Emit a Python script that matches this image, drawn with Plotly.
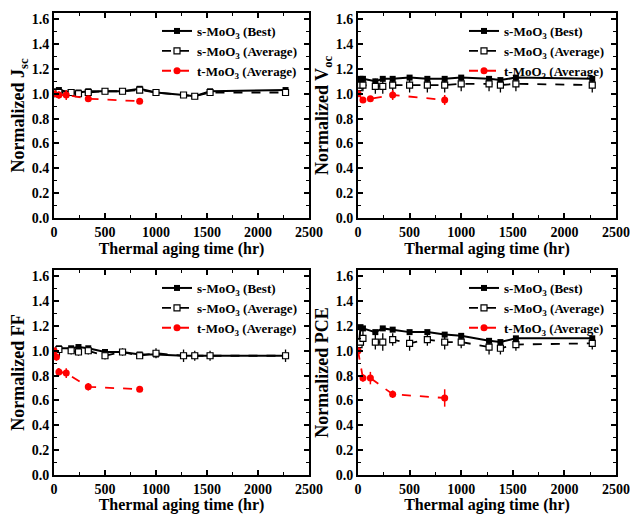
import plotly.graph_objects as go

# ---------------- data ----------------
s_time = [10, 24, 48, 168, 240, 336, 500, 672, 840, 1000, 1270, 1380, 1530, 2270]
t_time5 = [0, 48, 120, 336, 840]
t_time6 = [0, 24, 48, 120, 336, 840]

jsc_best = [1.00, 1.02, 1.03, 1.01, 1.01, 1.02, 1.02, 1.02, 1.04, 1.01, 0.99, 0.98, 1.02, 1.03]
jsc_avg = [1.00, 1.01, 1.01, 1.01, 1.00, 1.01, 1.02, 1.02, 1.03, 1.01, 0.99, 0.98, 1.01, 1.01]
jsc_avg_err = [0.005, 0.01, 0.01, 0.01, 0.01, 0.01, 0.01, 0.01, 0.01, 0.01, 0.01, 0.01, 0.01, 0.01]
jsc_t = [1.00, 0.99, 0.99, 0.96, 0.94]
jsc_t_err = [0.0, 0.03, 0.04, 0.02, 0.01]

voc_best = [1.10, 1.12, 1.12, 1.10, 1.12, 1.12, 1.13, 1.12, 1.12, 1.13, 1.12, 1.11, 1.13, 1.12]
voc_avg = [1.05, 1.07, 1.07, 1.06, 1.06, 1.07, 1.07, 1.07, 1.07, 1.08, 1.08, 1.07, 1.08, 1.07]
voc_avg_err = [0.03, 0.05, 0.05, 0.06, 0.06, 0.06, 0.06, 0.06, 0.06, 0.06, 0.06, 0.06, 0.06, 0.06]
voc_t = [1.00, 0.95, 0.96, 0.99, 0.95]
voc_t_err = [0.0, 0.02, 0.02, 0.04, 0.04]

ff_best = [0.96, 0.97, 1.02, 1.02, 1.03, 1.02, 0.99, 0.99, 0.97, 0.97, 0.96, 0.96, 0.96, 0.96]
ff_avg = [0.97, 0.98, 1.01, 1.00, 0.99, 1.00, 0.96, 0.99, 0.96, 0.98, 0.96, 0.96, 0.96, 0.96]
ff_avg_err = [0.02, 0.02, 0.02, 0.03, 0.03, 0.03, 0.03, 0.03, 0.02, 0.04, 0.05, 0.04, 0.04, 0.05]
ff_t = [1.00, 0.95, 0.83, 0.82, 0.71, 0.69]
ff_t_err = [0.02, 0.03, 0.03, 0.04, 0.03, 0.01]

pce_best = [1.05, 1.19, 1.18, 1.15, 1.18, 1.17, 1.15, 1.15, 1.13, 1.12, 1.08, 1.07, 1.10, 1.10]
pce_avg = [1.05, 1.07, 1.10, 1.07, 1.07, 1.09, 1.06, 1.09, 1.07, 1.07, 1.03, 1.02, 1.05, 1.06]
pce_avg_err = [0.03, 0.05, 0.06, 0.06, 0.07, 0.05, 0.06, 0.05, 0.06, 0.05, 0.06, 0.05, 0.05, 0.05]
pce_t = [1.00, 0.78, 0.78, 0.65, 0.62]
pce_t_err = [0.0, 0.03, 0.05, 0.03, 0.07]

x_ticks = [0, 500, 1000, 1500, 2000, 2500]
y_ticks = [0.0, 0.2, 0.4, 0.6, 0.8, 1.0, 1.2, 1.4, 1.6]

legend_names = ["s-MoO<sub>3</sub> (Best)", "s-MoO<sub>3</sub> (Average)", "t-MoO<sub>3</sub> (Average)"]
y_titles = ["Normalized J<sub>sc</sub>", "Normalized V<sub>oc</sub>", "Normalized FF", "Normalized PCE"]

panels = [
    (jsc_best, jsc_avg, jsc_avg_err, t_time5, jsc_t, jsc_t_err),
    (voc_best, voc_avg, voc_avg_err, t_time5, voc_t, voc_t_err),
    (ff_best, ff_avg, ff_avg_err, t_time6, ff_t, ff_t_err),
    (pce_best, pce_avg, pce_avg_err, t_time5, pce_t, pce_t_err),
]

# ---------------- layout geometry ----------------
W, H = 630, 514
def px_x(p):
    return p / W
def px_y(p):
    return 1 - p / H

x_domains = [(54, 309), (358, 616), (54, 309), (358, 616)]
y_domains = [(13, 218), (13, 218), (270, 475), (270, 475)]

FONT = "Liberation Serif"
RED = "#ff0000"

fig = go.Figure()

for i, (best, avg, avg_err, tx, tv, terr) in enumerate(panels):
    n = "" if i == 0 else str(i + 1)
    xa, ya = "x" + n, "y" + n
    leg = "legend" + n
    fig.add_trace(go.Scatter(
        x=s_time, y=best, xaxis=xa, yaxis=ya, legend=leg, name=legend_names[0],
        mode="lines+markers",
        line=dict(color="black", width=2),
        marker=dict(symbol="square", size=6, color="black"),
    ))
    fig.add_trace(go.Scatter(
        x=s_time, y=avg, xaxis=xa, yaxis=ya, legend=leg, name=legend_names[1],
        mode="lines+markers",
        line=dict(color="black", width=1.8, dash="dash"),
        marker=dict(symbol="square", size=6, color="white", line=dict(color="black", width=1.2)),
        error_y=dict(type="data", array=avg_err, color="black", thickness=1.3, width=0),
    ))
    fig.add_trace(go.Scatter(
        x=tx, y=tv, xaxis=xa, yaxis=ya, legend=leg, name=legend_names[2],
        mode="lines+markers",
        line=dict(color=RED, width=1.8, dash="dash"),
        marker=dict(symbol="circle", size=7, color=RED),
        error_y=dict(type="data", array=terr, color=RED, thickness=1.5, width=0),
    ))

    dx = x_domains[i]
    dy = y_domains[i]
    axis_common = dict(
        showline=True, linecolor="black", linewidth=2, mirror="ticks",
        ticks="inside", ticklen=5, tickwidth=1.5, tickcolor="black",
        showgrid=False, zeroline=False, automargin=False,
        tickfont=dict(family=FONT, size=14, color="black", weight="bold"),
    )
    xkey = "xaxis" + n
    ykey = "yaxis" + n
    fig.layout[xkey] = dict(
        domain=[px_x(dx[0]), px_x(dx[1])], anchor=ya,
        range=[0, 2500], tickvals=x_ticks, ticktext=[str(v) for v in x_ticks],
        minor=dict(ticks="inside", ticklen=3, dtick=250, tickcolor="black", tickwidth=1.2, showgrid=False),
        title=dict(text="Thermal aging time (hr)", standoff=2,
                   font=dict(family=FONT, size=16, color="black", weight="bold")),
        **axis_common,
    )
    fig.layout[ykey] = dict(
        domain=[px_y(dy[1]), px_y(dy[0])], anchor=xa,
        range=[0, 1.65], tickvals=y_ticks, ticktext=["%.1f" % v for v in y_ticks],
        minor=dict(ticks="inside", ticklen=3, dtick=0.1, tickcolor="black", tickwidth=1.2, showgrid=False),
        title=dict(text=y_titles[i], standoff=2,
                   font=dict(family=FONT, size=18, color="black", weight="bold")),
        **axis_common,
    )
    fig.layout[leg] = dict(
        x=px_x(dx[1] - 7), y=px_y(dy[0] + 3), xanchor="right", yanchor="top",
        bgcolor="rgba(0,0,0,0)", borderwidth=0,
        font=dict(family=FONT, size=13, color="black", weight="bold"),
        tracegroupgap=0, itemwidth=30,
    )

fig.update_layout(
    width=W, height=H,
    margin=dict(l=0, r=0, t=0, b=0),
    paper_bgcolor="white", plot_bgcolor="white",
    showlegend=True,
)

fig.write_html(
    "out.html",
    config={"displayModeBar": False},
    post_script="document.body.style.margin='0px';document.body.style.overflow='hidden';",
)
